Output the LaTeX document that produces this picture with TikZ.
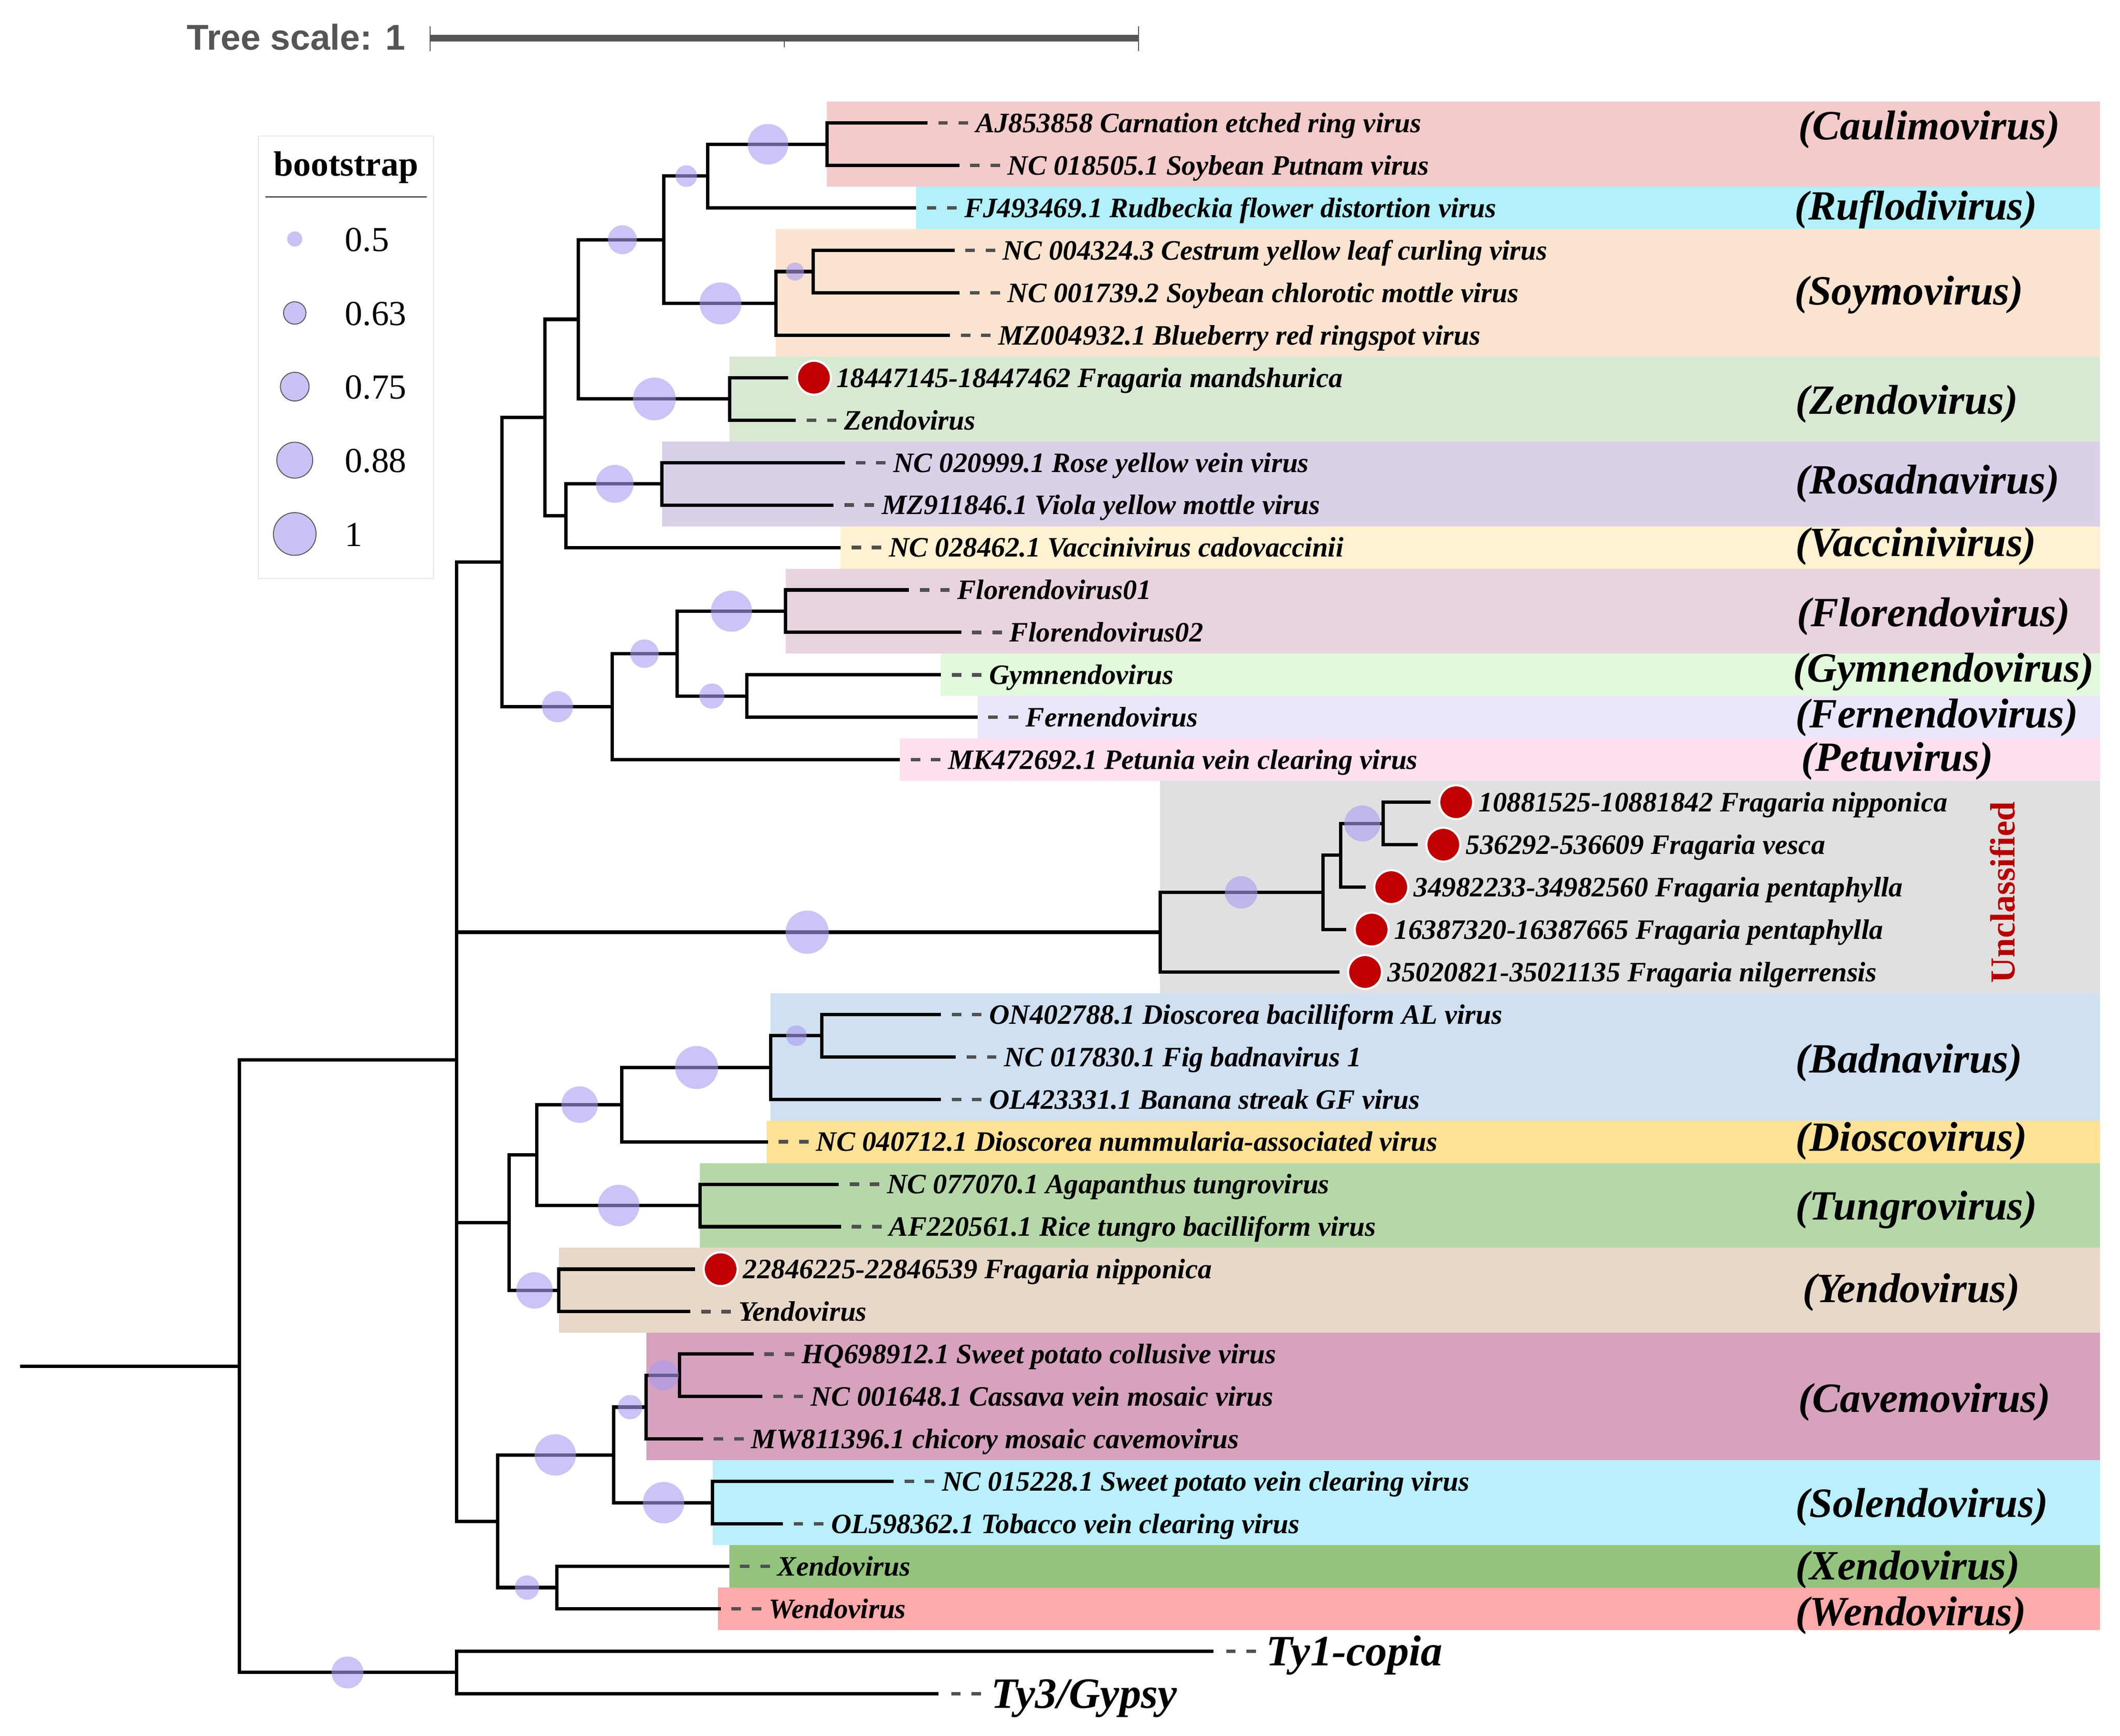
\documentclass[tikz,border=0pt]{standalone}
\usepackage{fontspec}
\setmainfont{Liberation Serif}
\newfontfamily\scalesans{Liberation Sans}
\definecolor{bscol}{RGB}{170,155,240}
\definecolor{legfill}{RGB}{203,193,245}
\definecolor{legedge}{RGB}{90,90,90}
\definecolor{legbox}{RGB}{232,232,232}
\definecolor{tipred}{RGB}{192,0,0}
\definecolor{dashgray}{RGB}{80,80,80}
\definecolor{scalegray}{RGB}{85,85,85}
\definecolor{unred}{RGB}{185,0,0}
\definecolor{cCaul}{RGB}{243,203,203}
\definecolor{cRufl}{RGB}{178,240,250}
\definecolor{cSoy}{RGB}{251,228,207}
\definecolor{cZen}{RGB}{217,232,211}
\definecolor{cRosa}{RGB}{218,209,232}
\definecolor{cVacc}{RGB}{255,242,208}
\definecolor{cFlo}{RGB}{233,211,222}
\definecolor{cGym}{RGB}{226,250,219}
\definecolor{cFern}{RGB}{236,230,251}
\definecolor{cPetu}{RGB}{252,224,238}
\definecolor{cUncl}{RGB}{224,224,224}
\definecolor{cBad}{RGB}{207,224,242}
\definecolor{cDios}{RGB}{253,226,150}
\definecolor{cTung}{RGB}{182,216,168}
\definecolor{cYen}{RGB}{232,216,200}
\definecolor{cCav}{RGB}{214,162,190}
\definecolor{cSol}{RGB}{185,240,252}
\definecolor{cXen}{RGB}{147,196,125}
\definecolor{cWen}{RGB}{252,170,170}
\newcommand\tiplab[4]{%
  \coordinate (#1) at (#2,#3);
  \draw[leader] ([xshift=8pt]#1) -- ([xshift=31pt]#1);
  \node[tiptext] (#1l) at ([xshift=35.5pt,yshift=-7pt]#1) {#4};}
\newcommand\redtip[4]{%
  \coordinate (#1) at (#2,#3);
  \filldraw[fragdot] ([xshift=19pt]#1) circle (12.5pt);
  \node[tiptext] (#1l) at ([xshift=35.5pt,yshift=-7pt]#1) {#4};}
\begin{document}
\begin{tikzpicture}[x=1pt,y=-1pt,
  br/.style={line width=2.5pt,black,line join=miter},
  leader/.style={line width=2.6pt,color=dashgray,dash pattern=on 7pt off 8pt},
  tiptext/.style={anchor=base west,inner sep=0pt,font=\fontsize{20.8}{24}\selectfont\bfseries\itshape},
  bigtip/.style={anchor=base west,inner sep=0pt,font=\fontsize{32}{36}\selectfont\bfseries\itshape},
  genus/.style={anchor=west,inner sep=0pt,font=\fontsize{30.8}{34}\selectfont\bfseries\itshape},
  bs/.style={fill=bscol,fill opacity=0.6},
  fragdot/.style={fill=tipred,draw=white,line width=1.5pt},
  legc/.style={fill=legfill,draw=legedge,line width=0.7pt},
  legtext/.style={anchor=base west,inner sep=0pt,font=\fontsize{26}{30}\selectfont}
]
\useasboundingbox (0,0) rectangle (1568,1283.8);

% ---------- clade strips ----------
\fill[cCaul] (611.6,75.3) rectangle (1553,138.1);
\fill[cRufl] (677.5,138.1) rectangle (1553,169.5);
\fill[cSoy]  (573.8,169.5) rectangle (1553,263.7);
\fill[cZen]  (539.6,263.7) rectangle (1553,326.5);
\fill[cRosa] (489.6,326.5) rectangle (1553,389.3);
\fill[cVacc] (621.8,389.3) rectangle (1553,420.7);
\fill[cFlo]  (581,420.7) rectangle (1553,483.5);
\fill[cGym]  (696,483.5) rectangle (1553,514.9);
\fill[cFern] (723,514.9) rectangle (1553,546.3);
\fill[cPetu] (665.6,546.3) rectangle (1553,577.7);
\fill[cUncl] (858,577.7) rectangle (1553,734.7);
\fill[cBad]  (570,734.7) rectangle (1553,829);
\fill[cDios] (567,829) rectangle (1553,860.3);
\fill[cTung] (517.7,860.3) rectangle (1553,923.1);
\fill[cYen]  (413.3,923.1) rectangle (1553,985.9);
\fill[cCav]  (478,985.9) rectangle (1553,1080.1);
\fill[cSol]  (527,1080.1) rectangle (1553,1142.9);
\fill[cXen]  (539.4,1142.9) rectangle (1553,1174.3);
\fill[cWen]  (531,1174.3) rectangle (1553,1205.7);

% ---------- internal nodes ----------
\coordinate (root) at (15,1010.55);
\coordinate (R) at (177,1010.55);
\coordinate (I) at (337.6,784);
\coordinate (T) at (337.6,1237.1);
\coordinate (A) at (371.4,415.8);
\coordinate (A1) at (403,308.8);
\coordinate (A2) at (427.6,236.2);
\coordinate (A4) at (491,177.35);
\coordinate (A5) at (523.5,130.25);
\coordinate (Caul) at (611.6,106.7);
\coordinate (Soy) at (573.8,224.45);
\coordinate (Soy2) at (601.4,200.9);
\coordinate (Zen) at (539.6,295.1);
\coordinate (A3) at (418.6,381.45);
\coordinate (Rosa) at (489.6,357.9);
\coordinate (F) at (452.7,522.75);
\coordinate (F1) at (500.7,483.5);
\coordinate (Flo) at (581,452.1);
\coordinate (GF) at (552.5,514.9);
\coordinate (U0) at (858,689.55);
\coordinate (U1) at (978.6,660.1);
\coordinate (U2) at (991.6,632.65);
\coordinate (U3) at (1023,609.1);
\coordinate (B) at (376.5,904.45);
\coordinate (B1) at (397,854.4);
\coordinate (B2) at (460,817.1);
\coordinate (Bad) at (570,789.65);
\coordinate (Bad2) at (607.8,766.1);
\coordinate (Tung) at (517.7,891.7);
\coordinate (Yen) at (413.3,954.5);
\coordinate (C) at (368,1125.25);
\coordinate (C1) at (454,1076.2);
\coordinate (Cav) at (478,1040.85);
\coordinate (Cav2) at (502.6,1017.3);
\coordinate (Sol) at (527,1111.5);
\coordinate (XW) at (412,1174.3);

% ---------- tips ----------
\tiplab{t1}{686}{91.0}{AJ853858 Carnation etched ring virus}
\tiplab{t2}{709.6}{122.4}{NC 018505.1 Soybean Putnam virus}
\tiplab{t3}{677.5}{153.8}{FJ493469.1 Rudbeckia flower distortion virus}
\tiplab{t4}{706}{185.2}{NC 004324.3 Cestrum yellow leaf curling virus}
\tiplab{t5}{709.6}{216.6}{NC 001739.2 Soybean chlorotic mottle virus}
\tiplab{t6}{702.7}{248.0}{MZ004932.1 Blueberry red ringspot virus}
\redtip{t7}{583}{279.4}{18447145-18447462 Fragaria mandshurica}
\tiplab{t8}{588.7}{310.8}{Zendovirus}
\tiplab{t9}{625}{342.2}{NC 020999.1 Rose yellow vein virus}
\tiplab{t10}{616.5}{373.6}{MZ911846.1 Viola yellow mottle virus}
\tiplab{t11}{621.8}{405.0}{NC 028462.1 Vaccinivirus cadovaccinii}
\tiplab{t12}{672.4}{436.4}{Florendovirus01}
\tiplab{t13}{711}{467.8}{Florendovirus02}
\tiplab{t14}{696}{499.2}{Gymnendovirus}
\tiplab{t15}{723}{530.6}{Fernendovirus}
\tiplab{t16}{665.6}{562.0}{MK472692.1 Petunia vein clearing virus}
\redtip{t17}{1058}{593.4}{10881525-10881842 Fragaria nipponica}
\redtip{t18}{1048.5}{624.8}{536292-536609 Fragaria vesca}
\redtip{t19}{1010}{656.2}{34982233-34982560 Fragaria pentaphylla}
\redtip{t20}{995.5}{687.6}{16387320-16387665 Fragaria pentaphylla}
\redtip{t21}{990.6}{719.0}{35020821-35021135 Fragaria nilgerrensis}
\tiplab{t22}{696}{750.4}{ON402788.1 Dioscorea bacilliform AL virus}
\tiplab{t23}{707}{781.8}{NC 017830.1 Fig badnavirus 1}
\tiplab{t24}{696}{813.2}{OL423331.1 Banana streak GF virus}
\tiplab{t25}{568}{844.6}{NC 040712.1 Dioscorea nummularia-associated virus}
\tiplab{t26}{620.4}{876.0}{NC 077070.1 Agapanthus tungrovirus}
\tiplab{t27}{622}{907.4}{AF220561.1 Rice tungro bacilliform virus}
\redtip{t28}{514}{938.8}{22846225-22846539 Fragaria nipponica}
\tiplab{t29}{510.6}{970.2}{Yendovirus}
\tiplab{t30}{557.4}{1001.6}{HQ698912.1 Sweet potato collusive virus}
\tiplab{t31}{564}{1033.0}{NC 001648.1 Cassava vein mosaic virus}
\tiplab{t32}{520}{1064.4}{MW811396.1 chicory mosaic cavemovirus}
\tiplab{t33}{661}{1095.8}{NC 015228.1 Sweet potato vein clearing virus}
\tiplab{t34}{579}{1127.2}{OL598362.1 Tobacco vein clearing virus}
\tiplab{t35}{539.4}{1158.6}{Xendovirus}
\tiplab{t36}{533}{1190.0}{Wendovirus}
\coordinate (t37) at (897.4,1221.4);
\draw[leader] ([xshift=9.5pt]t37) -- ([xshift=32.5pt]t37);
\node[bigtip] (t37l) at ([xshift=39pt,yshift=-10.5pt]t37) {Ty1-copia};
\coordinate (t38) at (694,1252.8);
\draw[leader] ([xshift=9.5pt]t38) -- ([xshift=32.5pt]t38);
\node[bigtip] (t38l) at ([xshift=39pt,yshift=-10.5pt]t38) {Ty3/Gypsy};

% ---------- branches ----------
\draw[br] (root) -- (R);
\foreach \p/\c in {R/I,R/T,T/t37,T/t38,I/A,I/U0,I/B,I/C,
  A/A1,A/F,A1/A2,A1/A3,A2/A4,A2/Zen,A4/A5,A4/Soy,A5/Caul,A5/t3,Caul/t1,Caul/t2,
  Soy/Soy2,Soy/t6,Soy2/t4,Soy2/t5,Zen/t7,Zen/t8,A3/Rosa,A3/t11,Rosa/t9,Rosa/t10,
  F/F1,F/t16,F1/Flo,F1/GF,Flo/t12,Flo/t13,GF/t14,GF/t15,
  U0/U1,U0/t21,U1/U2,U1/t20,U2/U3,U2/t19,U3/t17,U3/t18,
  B/B1,B/Yen,B1/B2,B1/Tung,B2/Bad,B2/t25,Bad/Bad2,Bad/t24,Bad2/t22,Bad2/t23,
  Tung/t26,Tung/t27,Yen/t28,Yen/t29,
  C/C1,C/XW,C1/Cav,C1/Sol,Cav/Cav2,Cav/t32,Cav2/t30,Cav2/t31,Sol/t33,Sol/t34,XW/t35,XW/t36}
  {\draw[br] (\p) |- (\c);}

% ---------- bootstrap circles ----------
\foreach \n/\x/\r in {A5/507.6/8,Caul/568/15,A4/460.3/10.7,Soy/532.9/15.5,Soy2/588/6.7,
  Zen/484/15.8,Rosa/454.7/14,F/412.3/11.5,F1/476.7/10.5,Flo/541/15.2,GF/526.5/9.3,
  U0/597/16,U1/918/12,U3/1007.6/13.3,Bad/515.2/15.9,Bad2/589/7.6,B2/428.7/13.5,
  Tung/457.6/15.3,Yen/395.3/13.5,C1/410.7/15.3,Cav/466/9,Cav2/490.8/11.2,
  Sol/490.8/15.3,XW/389.8/9,T/257/11.8}
  {\fill[bs] (\n -| \x,0) circle (\r pt);}

% ---------- genus labels ----------
\node[genus] (gCaul) at (1330,96) {(Caulimovirus)};
\node[genus] (gRufl) at (1327,155) {(Ruflodivirus)};
\node[genus] (gSoy) at (1327,218) {(Soymovirus)};
\node[genus] (gZen) at (1328,299) {(Zendovirus)};
\node[genus] (gRosa) at (1328,358) {(Rosadnavirus)};
\node[genus] (gVacc) at (1328,404) {(Vaccinivirus)};
\node[genus] (gFlo) at (1329,456) {(Florendovirus)};
\node[genus] (gGym) at (1326,497) {(Gymnendovirus)};
\node[genus] (gFern) at (1328,531) {(Fernendovirus)};
\node[genus] (gPetu) at (1332,563) {(Petuvirus)};
\node[genus] (gBad) at (1328,786) {(Badnavirus)};
\node[genus] (gDios) at (1328,844) {(Dioscovirus)};
\node[genus] (gTung) at (1328,895) {(Tungrovirus)};
\node[genus] (gYen) at (1333,956) {(Yendovirus)};
\node[genus] (gCav) at (1330,1037) {(Cavemovirus)};
\node[genus] (gSol) at (1328,1115) {(Solendovirus)};
\node[genus] (gXen) at (1328,1161) {(Xendovirus)};
\node[genus] (gWen) at (1328,1195) {(Wendovirus)};
\node[rotate=90,inner sep=0pt,text=unred,font=\fontsize{26}{30}\selectfont\bfseries] (uncl) at (1481,660) {Unclassified};

% ---------- scale bar ----------
\node[anchor=west,inner sep=0pt,text=scalegray,font=\scalesans\fontsize{26.5}{30}\selectfont\bfseries] (scalelab) at (138,27.5) {Tree scale: 1};
\coordinate (sb0) at (318,28.2);
\coordinate (sb1) at (842,28.2);
\draw[scalegray,line width=5pt] (sb0) -- (sb1);
\draw[scalegray,line width=0.8pt] (318,19.4) -- (318,37.7);
\draw[scalegray,line width=0.8pt] (842,19.4) -- (842,37.7);
\draw[scalegray,line width=0.8pt] (580,27) -- (580,35);

% ---------- legend ----------
\draw[legbox,line width=0.8pt] (191,100.6) rectangle (320.6,428);
\node[anchor=base,inner sep=0pt,font=\fontsize{26}{30}\selectfont\bfseries] (legtitle) at (256,130) {bootstrap};
\draw[line width=1pt,legedge] (196.4,145.7) -- (315.5,145.7);
\fill[legfill] (218,176.8) circle (5.6pt);
\filldraw[legc] (218,231.5) circle (8.3pt);
\filldraw[legc] (218,286) circle (10.6pt);
\filldraw[legc] (218,340.4) circle (13.3pt);
\filldraw[legc] (218,395) circle (15.8pt);
\node[legtext] (l1) at (255,185.8) {0.5};
\node[legtext] (l2) at (255,240.5) {0.63};
\node[legtext] (l3) at (255,295) {0.75};
\node[legtext] (l4) at (255,349.4) {0.88};
\node[legtext] (l5) at (255,404) {1};
\end{tikzpicture}
\end{document}
